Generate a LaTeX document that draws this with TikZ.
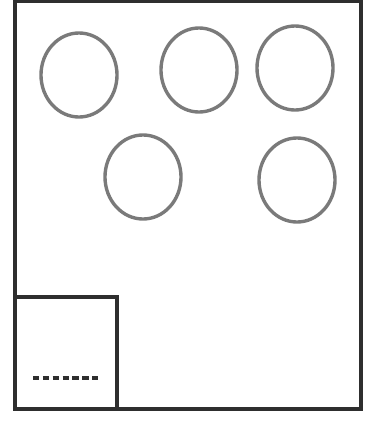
\documentclass[tikz,border=0pt]{standalone}
\usepackage{xcolor}
\usepackage{tikz}
\usetikzlibrary{positioning,calc,shapes.geometric}
\definecolor{framedark}{HTML}{2E2E2E}
\definecolor{ringgrey}{HTML}{7A7A7A}
\newcommand{\Ring}[2]{%
  \node[ring] (#1) at (#2) {};
}
\tikzset{
  ring/.style={draw=ringgrey, ellipse, line width=2.4pt, inner sep=0pt,
    minimum width=1.9cm, minimum height=2.1cm},
  wall/.style={draw=framedark, line width=3pt}
}

\begin{document}
\begin{tikzpicture}[x=0.025cm,y=-0.025cm]
  \useasboundingbox (0,0) rectangle (374,428);
  \fill[white] (0,0) rectangle (374,428);
  % outer frame
  \draw[wall] (15,1) rectangle (361,409);
  % rings
  \Ring{r1}{79,75}
  \Ring{r2}{199,70}
  \Ring{r3}{295,68}
  \Ring{r4}{143,177}
  \Ring{r5}{297,180}
  % corner box
  \draw[wall] (15,297) rectangle (117,409);
  \coordinate (d1) at (33,378);
  \coordinate (d2) at (100,378);
  \draw[framedark, line width=2.2pt, dash pattern=on 4.5pt off 2.5pt] (d1) -- (d2);
\end{tikzpicture}
\end{document}
